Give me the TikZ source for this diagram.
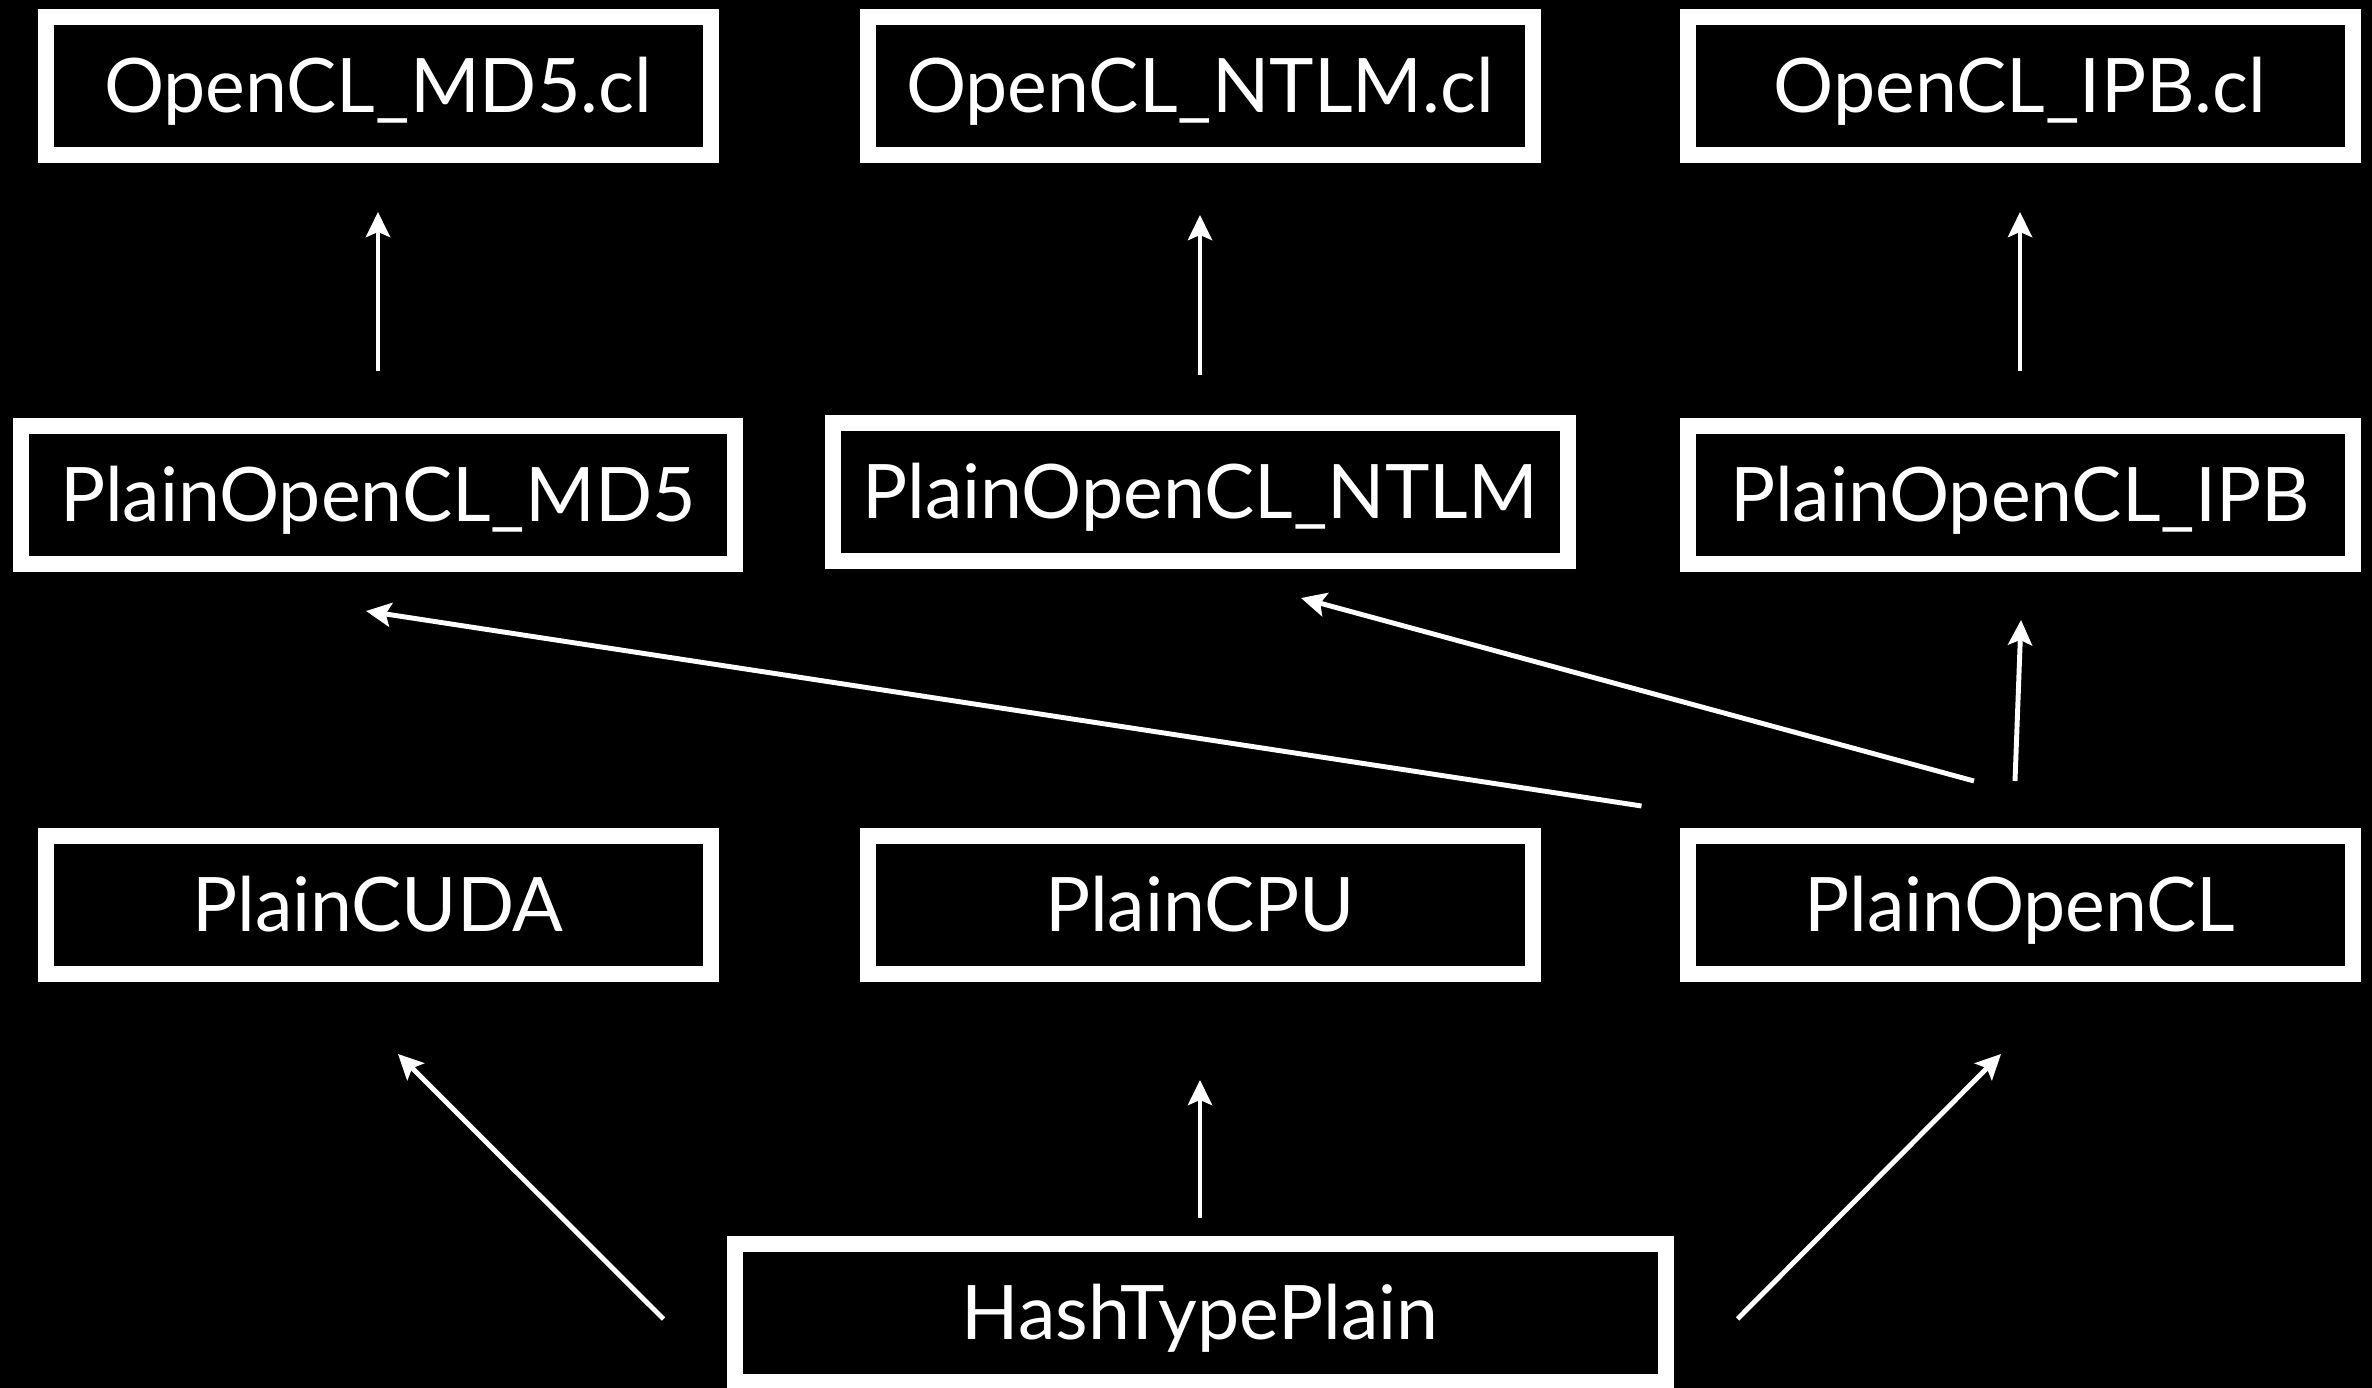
\documentclass[tikz,border=0pt]{standalone}
\usepackage{fontspec}
\setmainfont{Lato}
\usetikzlibrary{arrows.meta}

\begin{document}
\begin{tikzpicture}[
    box/.style={draw=white, line width=0.16cm, fill=black, text=white, minimum height=1.38cm, inner sep=0pt, text height=0.62cm, text depth=0.08cm, font=\fontsize{21.4}{25}\selectfont},
    arr/.style={draw=white, line width=1.4pt, -{Stealth[length=0.25cm, width=0.24cm, inset=0.05cm]}}
  ]
      \useasboundingbox (0,0) rectangle (23.72,13.88);
      \fill[black] (0,0) rectangle (23.72,13.88);

      \node[box, minimum width=6.65cm] (md5cl) at (3.78,13.02) {OpenCL\_MD5.cl};
      \node[box, minimum width=6.65cm] (ntlmcl) at (12.00,13.02) {OpenCL\_NTLM.cl};
      \node[box, minimum width=6.65cm] (ipbcl) at (20.20,13.02) {OpenCL\_IPB.cl};

      \node[box, minimum width=7.13cm] (pmd5) at (3.78,8.93) {PlainOpenCL\_MD5};
      \node[box, minimum width=7.35cm] (pntlm) at (12.00,8.96) {PlainOpenCL\_NTLM};
      \node[box, minimum width=6.65cm] (pipb) at (20.20,8.93) {PlainOpenCL\_IPB};

      \node[box, minimum width=6.65cm] (pcuda) at (3.78,4.83) {PlainCUDA};
      \node[box, minimum width=6.65cm] (pcpu) at (12.00,4.83) {PlainCPU};
      \node[box, minimum width=6.65cm] (pocl) at (20.20,4.83) {PlainOpenCL};

      \node[box, minimum width=9.31cm] (hash) at (12.00,0.75) {HashTypePlain};

      \draw[arr, shorten <=0.47cm, shorten >=0.49cm] (pmd5) -- (md5cl);
      \draw[arr, shorten <=0.40cm, shorten >=0.52cm] (pntlm) -- (ntlmcl);
      \draw[arr, shorten <=0.47cm, shorten >=0.49cm] (pipb) -- (ipbcl);

      \draw[arr] ([shift={(-0.38,0.22)}]pocl.north west) -- ([shift={(-0.12,-0.39)}]pmd5.south);
      \draw[arr] ([shift={(-0.46,0.47)}]pocl.north) -- ([shift={(1.01,-0.29)}]pntlm.south);
      \draw[arr] ([shift={(-0.05,0.47)}]pocl.north) -- ([shift={(0.01,-0.48)}]pipb.south);

      \draw[arr] ([shift={(-0.63,-0.06)}]hash.west) -- ([shift={(0.20,-0.72)}]pcuda.south);
      \draw[arr, shorten <=0.18cm, shorten >=0.98cm] (hash) -- (pcpu);
      \draw[arr] ([shift={(0.64,-0.06)}]hash.east) -- ([shift={(-0.19,-0.72)}]pocl.south);
\end{tikzpicture}
\end{document}
